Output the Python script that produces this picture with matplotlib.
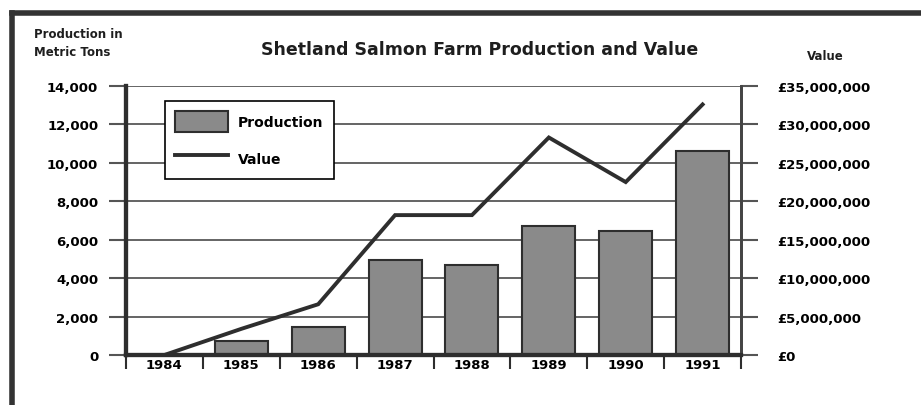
import numpy as np
import matplotlib.pyplot as plt
from matplotlib.lines import Line2D
from matplotlib.patches import Patch
from matplotlib.ticker import FuncFormatter

years = ["1984", "1985", "1986", "1987", "1988", "1989", "1990", "1991"]
production = [0, 730, 1480, 4960, 4690, 6720, 6460, 10620]
value = [0, 3.4e6, 6.6e6, 18.2e6, 18.2e6, 28.3e6, 22.5e6, 32.6e6]

plt.rcParams["font.family"] = "DejaVu Sans"
plt.rcParams["font.weight"] = "bold"

fig = plt.figure(figsize=(9.21, 4.06), dpi=100)
ax = fig.add_axes([0.1368, 0.1232, 0.6678, 0.6625])
ax2 = ax.twinx()

x = np.arange(len(years))
bar_col = "#8a8a8a"
dark = "#2e2e2e"

ax.set_axisbelow(True)
ax.yaxis.grid(True, color="#3a3a3a", linewidth=1.1)
ax.bar(x, production, width=0.69, color=bar_col, edgecolor=dark, linewidth=1.5, zorder=2)
ax.set_xlim(-0.5, 7.5)
ax.set_ylim(0, 14000)
ax.set_yticks(np.arange(0, 14001, 2000))
ax.yaxis.set_major_formatter(FuncFormatter(lambda v, p: f"{int(v):,}"))
ax.tick_params(axis="y", direction="out", length=12, width=1.5, color="#555555",
               labelsize=9.5, pad=8)

ax.set_xticks(np.arange(-0.5, 8, 1))
ax.set_xticklabels([])
ax.set_xticks(x, minor=True)
ax.set_xticklabels(years, minor=True)
ax.tick_params(axis="x", which="major", direction="out", length=10, width=1.5, color=dark)
ax.tick_params(axis="x", which="minor", length=0, labelsize=9.5, pad=2)

ax2.plot(x, value, color=dark, linewidth=2.8, solid_joinstyle="miter")
ax2.set_ylim(0, 35e6)
ax2.set_yticks(np.arange(0, 35e6 + 1, 5e6))
ax2.yaxis.set_major_formatter(FuncFormatter(lambda v, p: f"£{int(v):,}"))
ax2.tick_params(axis="y", direction="out", length=12, width=1.5, color="#555555",
                labelsize=9.5, pad=14)

for a in (ax, ax2):
    a.spines["top"].set_visible(False)
    a.spines["left"].set_linewidth(3)
    a.spines["left"].set_color(dark)
    a.spines["bottom"].set_linewidth(3)
    a.spines["bottom"].set_color(dark)
    a.spines["right"].set_linewidth(2)
    a.spines["right"].set_color("#444444")

handles = [Patch(facecolor=bar_col, edgecolor=dark, linewidth=1.5),
           Line2D([0], [0], color=dark, linewidth=2.8)]
leg = ax2.legend(handles, ["Production", "Value"], loc="upper left",
                 bbox_to_anchor=(0.063, 0.944), borderaxespad=0, fancybox=False,
                 framealpha=1, edgecolor="black", fontsize=10, handlelength=3.8,
                 handleheight=1.9, borderpad=0.75, labelspacing=1.15, handletextpad=0.7)
leg.get_frame().set_linewidth(1.2)

fig.text(0.521, 0.877, "Shetland Salmon Farm Production and Value",
         ha="center", va="center", fontsize=12.5, fontweight="bold", color="#1e1e1e")
fig.text(0.037, 0.93, "Production in\nMetric Tons", ha="left", va="top",
         fontsize=8.5, fontweight="bold", color="#1e1e1e", linespacing=1.5)
fig.text(0.896, 0.86, "Value", ha="center", va="center",
         fontsize=8.5, fontweight="bold", color="#1e1e1e")

# outer frame (top and left edges)
fig.add_artist(Line2D([0.013, 1.0], [0.966, 0.966], transform=fig.transFigure,
                      color="#333333", linewidth=4))
fig.add_artist(Line2D([0.013, 0.013], [0.0, 0.966], transform=fig.transFigure,
                      color="#333333", linewidth=4))

fig.savefig("out.png", dpi=100)
